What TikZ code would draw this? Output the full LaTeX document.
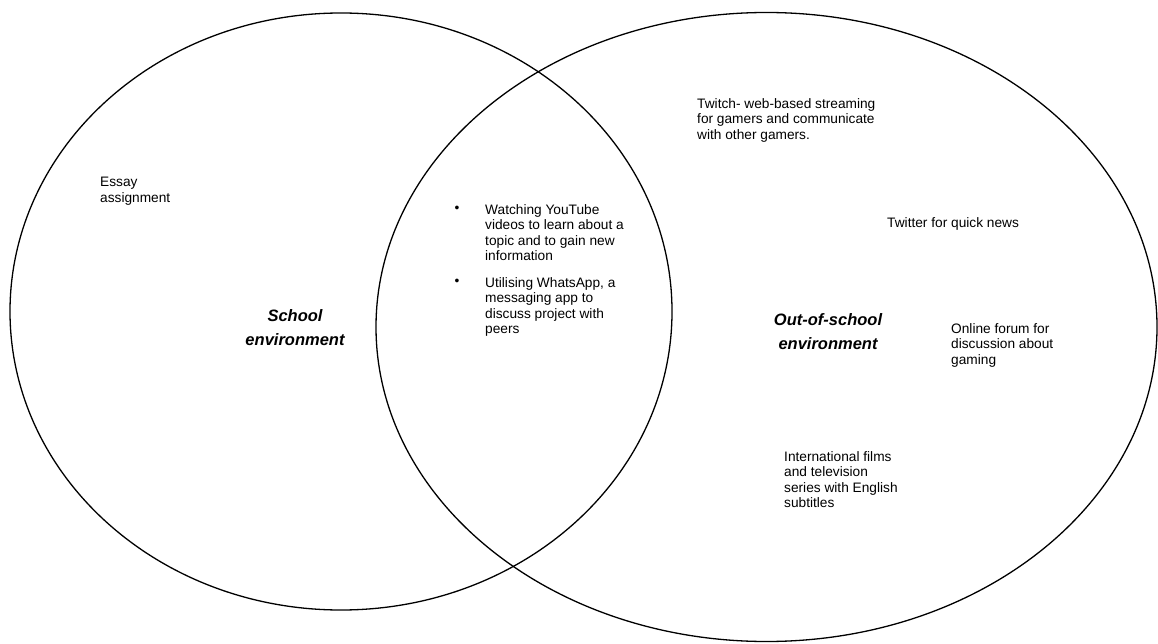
\documentclass[tikz,border=0pt]{standalone}
\usepackage{fontspec}
\setmainfont{Liberation Sans}
\begin{document}
\begin{tikzpicture}[x=1pt,y=-1pt,
  venn/.style={draw=black, line width=1.3pt},
  txt/.style={anchor=north west, inner sep=0pt, align=left, font=\fontsize{13.7}{15.6}\selectfont},
  ttl/.style={anchor=north, inner sep=0pt, align=center, font=\fontsize{16.5}{24.5}\selectfont\bfseries\itshape},
  bul/.style={inner sep=0pt, font=\fontsize{13.7}{15.6}\selectfont}]
\useasboundingbox (0,0) rectangle (1158,644);
\fill[white] (0,0) rectangle (1158,644);
\draw[venn] (341,311.5) ellipse [x radius=331, y radius=298.5];
\draw[venn] (766.5,327) ellipse [x radius=390.5, y radius=314.5];
\node[txt] (essay) at (100,177) {Essay\\assignment};
\node[ttl] (school) at (295,309) {School\\environment};
\node[bul] (b1) at (457,209) {\textbullet};
\node[txt] (yt) at (485,204) {Watching YouTube\\videos to learn about a\\topic and to gain new\\information};
\node[bul] (b2) at (457,282) {\textbullet};
\node[txt] (wa) at (485,277) {Utilising WhatsApp, a\\messaging app to\\discuss project with\\peers};
\node[txt] (twitch) at (697,98) {Twitch- web-based streaming\\for gamers and communicate\\with other gamers.};
\node[txt] (twitter) at (887,217) {Twitter for quick news};
\node[ttl] (out) at (828,313) {Out-of-school\\environment};
\node[txt] (forum) at (951,323) {Online forum for\\discussion about\\gaming};
\node[txt] (films) at (784,451) {International films\\and television\\series with English\\subtitles};
\end{tikzpicture}
\end{document}
